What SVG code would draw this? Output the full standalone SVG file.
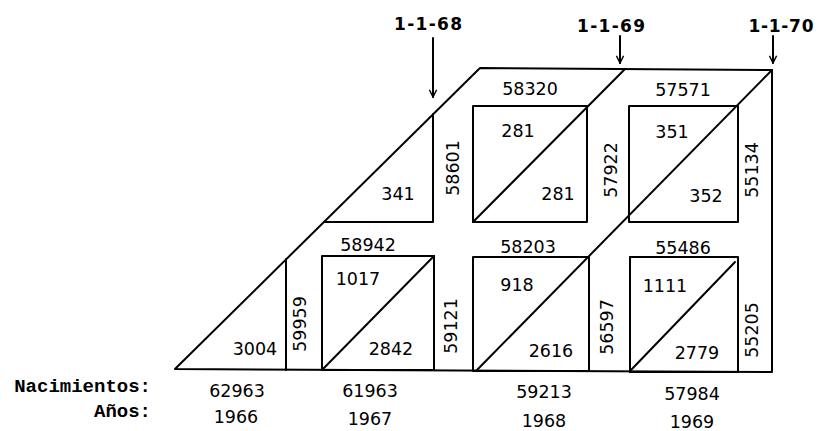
<svg xmlns="http://www.w3.org/2000/svg" width="817" height="431" viewBox="0 0 817 431">
<style>
.ln{stroke:#000;stroke-width:2;fill:none;stroke-linecap:round;stroke-linejoin:round}
.n{font-family:"DejaVu Sans",sans-serif;font-size:17.5px;fill:#000;text-anchor:middle}
.d{font-family:"DejaVu Sans",sans-serif;font-size:17px;font-weight:bold;fill:#000;text-anchor:middle}
.lab{font-family:"Liberation Mono",monospace;font-size:19px;font-weight:bold;fill:#000;text-anchor:end}
</style>
<defs>
<marker id="ah" viewBox="0 0 10 10" refX="9" refY="5" markerWidth="9" markerHeight="9" markerUnits="userSpaceOnUse" orient="auto">
<path d="M1,1 L9,5 L1,9" fill="none" stroke="#000" stroke-width="1.6"/>
</marker>
</defs>
<rect width="817" height="431" fill="#fff"/>

<g id="frame">
<path class="ln" d="M175,369 L480,68 L772,70 L772,372 L175,369"/>
</g>

<g id="upper-left-triangle">
<path class="ln" d="M324,222 L433,222 L433,114"/>
<text class="n" x="398" y="200">341</text>
<text class="n" transform="translate(453,168) rotate(-90)" x="0" y="6">58601</text>
</g>

<g id="cell-1968-upper">
<rect class="ln" x="473" y="106" width="114" height="116"/>
<path class="ln" d="M625,69 L473,222"/>
<text class="n" x="530" y="95">58320</text>
<text class="n" x="518" y="137">281</text>
<text class="n" x="558" y="200">281</text>
<text class="n" transform="translate(611,170) rotate(-90)" x="0" y="6">57922</text>
</g>

<g id="cell-1969-upper">
<rect class="ln" x="629" y="106" width="109" height="116"/>
<path class="ln" d="M772,70 L476,371"/>
<text class="n" x="683" y="96">57571</text>
<text class="n" x="672" y="138">351</text>
<text class="n" x="706" y="202">352</text>
<text class="n" transform="translate(752,170) rotate(-90)" x="0" y="6">55134</text>
</g>

<g id="lower-left-triangle">
<path class="ln" d="M286,259 L286,370"/>
<text class="n" x="255" y="355">3004</text>
<text class="n" transform="translate(300,324) rotate(-90)" x="0" y="6">59959</text>
</g>

<g id="cell-1967-lower">
<rect class="ln" x="322" y="256" width="112" height="114"/>
<path class="ln" d="M434,256 L322,370"/>
<text class="n" x="368" y="251">58942</text>
<text class="n" x="358" y="285">1017</text>
<text class="n" x="391" y="355">2842</text>
<text class="n" transform="translate(451,326) rotate(-90)" x="0" y="6">59121</text>
</g>

<g id="cell-1968-lower">
<rect class="ln" x="473" y="257" width="116" height="114"/>
<text class="n" x="528" y="253">58203</text>
<text class="n" x="517" y="291">918</text>
<text class="n" x="551" y="357">2616</text>
<text class="n" transform="translate(607,327) rotate(-90)" x="0" y="6">56597</text>
</g>

<g id="cell-1969-lower">
<rect class="ln" x="630" y="257" width="108" height="115"/>
<path class="ln" d="M630,257 L630,372" stroke-width="3"/>
<path class="ln" d="M735,262 L631,370"/>
<text class="n" x="683" y="254">55486</text>
<text class="n" x="665" y="292">1111</text>
<text class="n" x="697" y="359">2779</text>
<text class="n" transform="translate(752,330) rotate(-90)" x="0" y="6">55205</text>
</g>

<g id="dates">
<text class="d" x="428" y="30" textLength="68" lengthAdjust="spacing">1-1-68</text>
<text class="d" x="611" y="32" textLength="68" lengthAdjust="spacing">1-1-69</text>
<text class="d" x="781" y="32" textLength="65" lengthAdjust="spacing">1-1-70</text>
</g>

<g id="connectors">
<path class="ln" d="M433,38 L433,97" stroke-width="2.5" marker-end="url(#ah)"/>
<path class="ln" d="M620,36 L620,63" stroke-width="1.5" marker-end="url(#ah)"/>
<path class="ln" d="M773,36 L773,63" stroke-width="1.5" marker-end="url(#ah)"/>
</g>

<g id="axis">
<text class="lab" x="151" y="392">Nacimientos:</text>
<text class="lab" x="151" y="417">Años:</text>
<text class="n" x="237" y="397">62963</text>
<text class="n" x="236" y="423">1966</text>
<text class="n" x="370" y="397">61963</text>
<text class="n" x="370" y="425">1967</text>
<text class="n" x="544" y="398">59213</text>
<text class="n" x="544" y="427">1968</text>
<text class="n" x="692" y="400">57984</text>
<text class="n" x="692" y="428">1969</text>
</g>
</svg>
